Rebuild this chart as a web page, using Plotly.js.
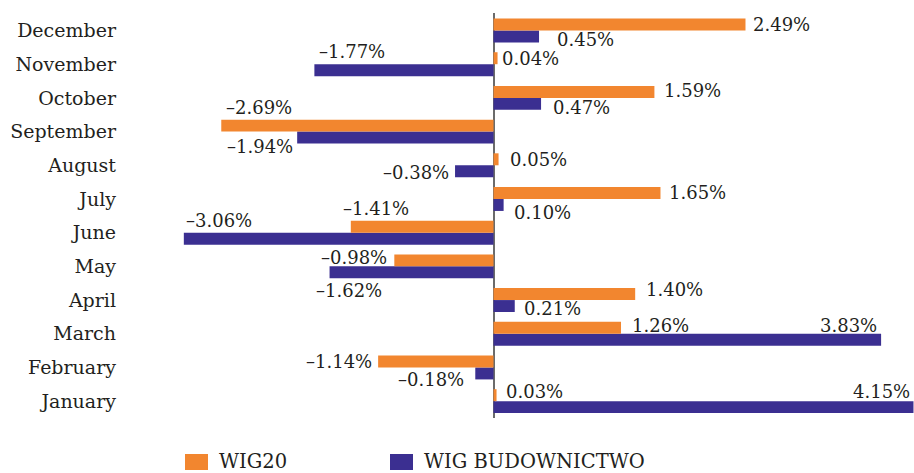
<!DOCTYPE html>
<html><head><meta charset="utf-8">
<script src="https://cdn.plot.ly/plotly-3.0.1.min.js"></script>
<style>html,body{margin:0;padding:0;background:#fff}#chart{width:914px;height:473px}</style>
</head><body><div id="chart"></div>
<script>
// ---- data ----
const months = ['January','February','March','April','May','June','July','August','September','October','November','December'];
const wig20 = [0.03, -1.14, 1.26, 1.40, -0.98, -1.41, 1.65, 0.05, -2.69, 1.59, 0.04, 2.49];
const wigBud = [4.15, -0.18, 3.83, 0.21, -1.62, -3.06, 0.10, -0.38, -1.94, 0.47, -1.77, 0.45];
const seriesNames = ['WIG20', 'WIG BUDOWNICTWO'];

// ---- label placement (style only): [anchor, xshift px, yshift-down px] ----
const wig20Place = [
  ['left',8.5,-9.6],['right',-5,-6.4],['left',10,-8.6],['left',10,-11],['right',-6,-8.6],['left',-9,-24.4],
  ['left',8,-6],['left',10,-6],['left',4,-23.6],['left',8.6,-7],['left',3,-5.6],['left',7,-6]
];
const budPlace = [
  ['right',-2,-10],['right',-10,11.6],['right',-3,-8.6],['left',8,8],['left',-15,24.4],['left',1,-12],
  ['left',9,13.4],['right',-5,7],['right',-3,15],['left',11,10],['left',4,-12.6],['left',17,8.6]
];

const ORANGE = '#F2862F', BLUE = '#3B2F91', TXT = '#231F20';
const FONT = 'DejaVu Serif';
const fmt = v => (v < 0 ? '\u2013' : '') + Math.abs(v).toFixed(2) + '%';

const M = {l:120, r:0, t:13, b:55};
const W = 914, H = 473;
const pw = W - M.l - M.r, ph = H - M.t - M.b;
const fx = px => (px - M.l) / pw;
const fy = py => (H - M.b - py) / ph;

const traces = [
  {type:'bar', orientation:'h', name:seriesNames[1], y:months, x:wigBud,
   marker:{color:BLUE, line:{width:0}}, hoverinfo:'none'},
  {type:'bar', orientation:'h', name:seriesNames[0], y:months, x:wig20,
   marker:{color:ORANGE, line:{width:0}}, hoverinfo:'none'}
];

const annotations = [];
function addLabels(vals, place) {
  vals.forEach((v, i) => {
    const p = place[i];
    annotations.push({x:v, y:months[i], xref:'x', yref:'y', text:fmt(v), showarrow:false,
      xanchor:p[0], yanchor:'middle', xshift:p[1], yshift:-p[2], borderpad:0,
      font:{family:FONT, size:18, color:TXT}});
  });
}
addLabels(wig20, wig20Place);
addLabels(wigBud, budPlace);

// custom legend
const legendItems = [
  {name:seriesNames[0], color:ORANGE, sx:185, tx:218},
  {name:seriesNames[1], color:BLUE, sx:390, tx:423}
];
const shapes = [];
legendItems.forEach(it => {
  shapes.push({type:'rect', xref:'paper', yref:'paper', x0:fx(it.sx), x1:fx(it.sx+23), y0:fy(454), y1:fy(470),
    fillcolor:it.color, line:{width:0}});
  annotations.push({xref:'paper', yref:'paper', x:fx(it.tx), y:fy(461.5), text:it.name, showarrow:false,
    xanchor:'left', yanchor:'middle', borderpad:0, font:{family:FONT, size:19.5, color:TXT}});
});

const layout = {
  width:W, height:H, margin:M, paper_bgcolor:'#fff', plot_bgcolor:'#fff',
  barmode:'group', bargap:0.29, bargroupgap:0, showlegend:false,
  xaxis:{range:[(M.l - 493.5)/101.2, (W - 493.5)/101.2], showticklabels:false, showgrid:false,
    zeroline:true, zerolinecolor:'#6b6b6b', zerolinewidth:2, fixedrange:true},
  yaxis:{type:'category', categoryorder:'array', categoryarray:months, showgrid:false, zeroline:false,
    ticks:'', showline:false, ticklabelstandoff:3, tickfont:{family:FONT, size:19, color:TXT}, fixedrange:true},
  annotations:annotations, shapes:shapes
};
Plotly.newPlot('chart', traces, layout, {displayModeBar:false, staticPlot:true});
</script></body></html>
